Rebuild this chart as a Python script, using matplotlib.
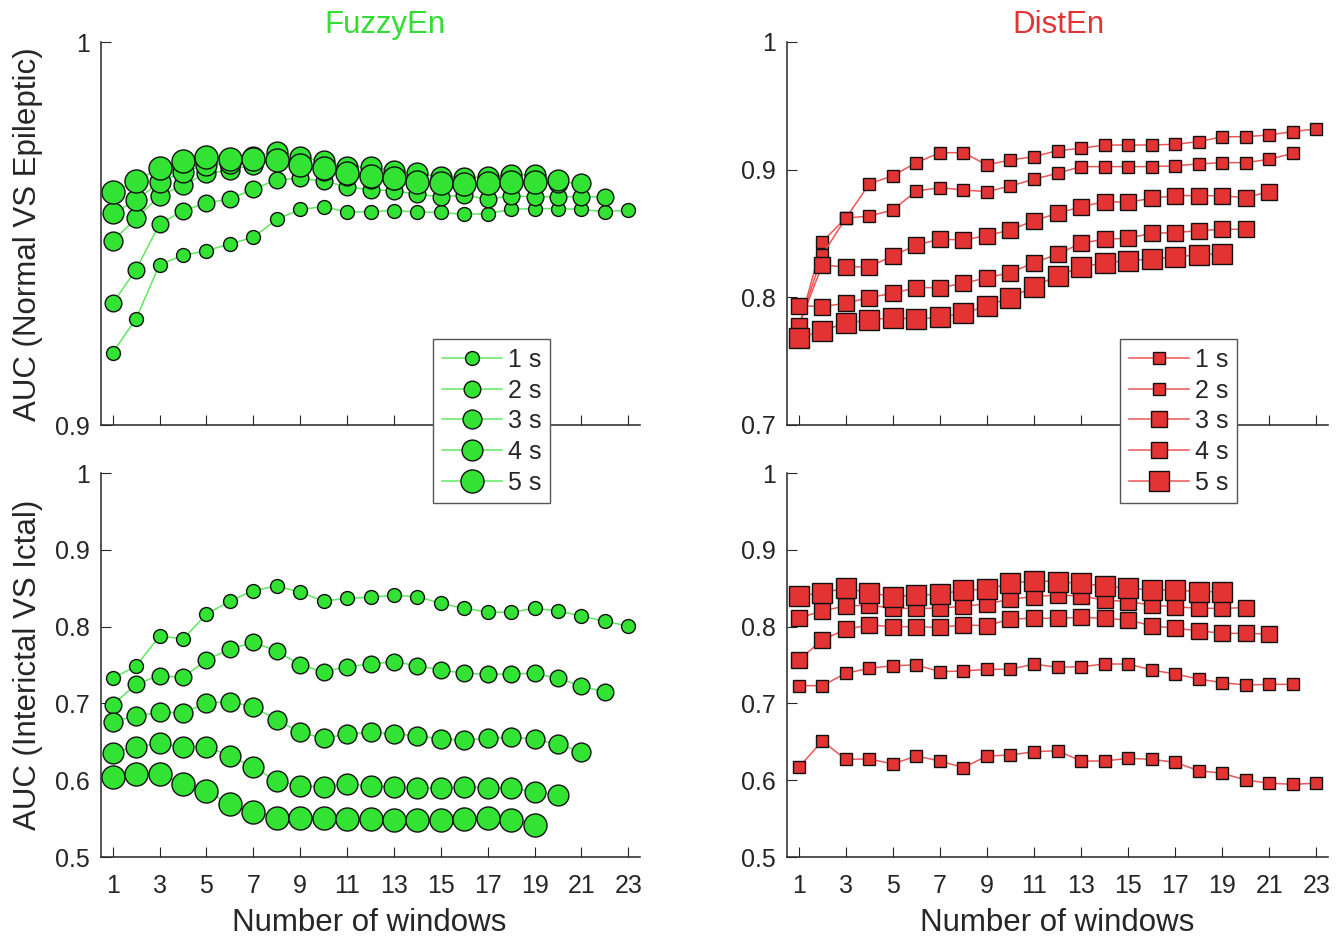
import matplotlib
matplotlib.use("Agg")
import matplotlib.pyplot as plt

plt.rcParams['font.family'] = ['Liberation Sans', 'DejaVu Sans']

# ---------------- data ----------------
labels = ["1 s", "2 s", "3 s", "4 s", "5 s"]
xticks = [1, 3, 5, 7, 9, 11, 13, 15, 17, 19, 21, 23]
xticklabels = ["1", "3", "5", "7", "9", "11", "13", "15", "17", "19", "21", "23"]

fz_top_1s = [0.9189, 0.9278, 0.9419, 0.9443, 0.9455, 0.9473, 0.9490, 0.9537, 0.9563, 0.9570, 0.9556, 0.9557,
             0.9560, 0.9556, 0.9555, 0.9550, 0.9552, 0.9563, 0.9565, 0.9565, 0.9563, 0.9557, 0.9561]
fz_top_2s = [0.9318, 0.9406, 0.9525, 0.9559, 0.9580, 0.9590, 0.9616, 0.9640, 0.9644, 0.9637, 0.9622, 0.9614,
             0.9612, 0.9602, 0.9596, 0.9600, 0.9590, 0.9598, 0.9596, 0.9596, 0.9596, 0.9596]
fz_top_3s = [0.9480, 0.9540, 0.9598, 0.9627, 0.9657, 0.9665, 0.9680, 0.9690, 0.9680, 0.9662, 0.9650, 0.9642,
             0.9640, 0.9632, 0.9630, 0.9628, 0.9630, 0.9632, 0.9632, 0.9632, 0.9633]
fz_top_4s = [0.9553, 0.9587, 0.9635, 0.9661, 0.9679, 0.9685, 0.9700, 0.9714, 0.9701, 0.9688, 0.9674, 0.9674,
             0.9663, 0.9657, 0.9648, 0.9645, 0.9648, 0.9652, 0.9654, 0.9640]
fz_top_5s = [0.9608, 0.9637, 0.9672, 0.9689, 0.9700, 0.9695, 0.9695, 0.9692, 0.9679, 0.9672, 0.9657, 0.9651,
             0.9644, 0.9635, 0.9631, 0.9628, 0.9631, 0.9635, 0.9635]

fz_bot_1s = [0.7326, 0.7487, 0.7878, 0.7839, 0.8160, 0.8333, 0.8468, 0.8529, 0.8446, 0.8333, 0.8368, 0.8381,
             0.8407, 0.8390, 0.8303, 0.8238, 0.8190, 0.8186, 0.8238, 0.8203, 0.8138, 0.8069, 0.8008]
fz_bot_2s = [0.6979, 0.7253, 0.7361, 0.7339, 0.7565, 0.7708, 0.7795, 0.7682, 0.7500, 0.7413, 0.7478, 0.7513,
             0.7543, 0.7490, 0.7435, 0.7392, 0.7379, 0.7383, 0.7392, 0.7326, 0.7227, 0.7145]
fz_bot_3s = [0.6762, 0.6836, 0.6884, 0.6880, 0.7001, 0.7023, 0.6957, 0.6784, 0.6623, 0.6545, 0.6602, 0.6623,
             0.6602, 0.6580, 0.6536, 0.6523, 0.6545, 0.6558, 0.6536, 0.6467, 0.6371]
fz_bot_4s = [0.6358, 0.6436, 0.6480, 0.6436, 0.6436, 0.6319, 0.6168, 0.5990, 0.5924, 0.5915, 0.5947, 0.5924,
             0.5915, 0.5895, 0.5895, 0.5915, 0.5902, 0.5902, 0.5850, 0.5807]
fz_bot_5s = [0.6046, 0.6077, 0.6077, 0.5950, 0.5859, 0.5686, 0.5590, 0.5512, 0.5504, 0.5504, 0.5495, 0.5495,
             0.5482, 0.5482, 0.5482, 0.5490, 0.5504, 0.5482, 0.5417]

de_top_1s = [0.7760, 0.8436, 0.8620, 0.8888, 0.8953, 0.9055, 0.9133, 0.9133, 0.9037, 0.9076, 0.9102, 0.9149,
             0.9167, 0.9193, 0.9193, 0.9193, 0.9199, 0.9219, 0.9258, 0.9258, 0.9272, 0.9298, 0.9319]
de_top_2s = [0.7770, 0.8332, 0.8620, 0.8637, 0.8684, 0.8833, 0.8859, 0.8841, 0.8828, 0.8872, 0.8925, 0.8972,
             0.9024, 0.9024, 0.9024, 0.9024, 0.9030, 0.9045, 0.9055, 0.9055, 0.9081, 0.9128]
de_top_3s = [0.7776, 0.8254, 0.8236, 0.8241, 0.8324, 0.8410, 0.8455, 0.8450, 0.8483, 0.8528, 0.8601, 0.8658,
             0.8710, 0.8749, 0.8745, 0.8776, 0.8797, 0.8797, 0.8795, 0.8781, 0.8828]
de_top_4s = [0.7935, 0.7927, 0.7954, 0.7998, 0.8032, 0.8076, 0.8076, 0.8110, 0.8154, 0.8193, 0.8272, 0.8337,
             0.8424, 0.8455, 0.8463, 0.8502, 0.8507, 0.8522, 0.8533, 0.8533]
de_top_5s = [0.7680, 0.7739, 0.7797, 0.7823, 0.7841, 0.7828, 0.7844, 0.7875, 0.7933, 0.7998, 0.8084, 0.8170,
             0.8236, 0.8272, 0.8287, 0.8301, 0.8316, 0.8334, 0.8340]

de_bot_1s = [0.6168, 0.6510, 0.6272, 0.6276, 0.6211, 0.6315, 0.6250, 0.6163, 0.6315, 0.6328, 0.6371, 0.6384,
             0.6250, 0.6250, 0.6285, 0.6272, 0.6233, 0.6124, 0.6090, 0.6003, 0.5960, 0.5947, 0.5960]
de_bot_2s = [0.7231, 0.7231, 0.7392, 0.7457, 0.7491, 0.7500, 0.7413, 0.7422, 0.7444, 0.7444, 0.7513, 0.7470,
             0.7478, 0.7513, 0.7513, 0.7435, 0.7383, 0.7318, 0.7270, 0.7240, 0.7248, 0.7248]
de_bot_3s = [0.7565, 0.7826, 0.7965, 0.8021, 0.7999, 0.7999, 0.7990, 0.8021, 0.8012, 0.8099, 0.8108, 0.8108,
             0.8121, 0.8108, 0.8086, 0.8012, 0.7977, 0.7947, 0.7912, 0.7912, 0.7903]
de_bot_4s = [0.8108, 0.8207, 0.8268, 0.8280, 0.8238, 0.8238, 0.8238, 0.8268, 0.8294, 0.8359, 0.8390, 0.8411,
             0.8398, 0.8346, 0.8325, 0.8281, 0.8259, 0.8238, 0.8238, 0.8247]
de_bot_5s = [0.8398, 0.8442, 0.8498, 0.8442, 0.8390, 0.8411, 0.8420, 0.8477, 0.8485, 0.8563, 0.8598, 0.8585,
             0.8563, 0.8529, 0.8498, 0.8477, 0.8477, 0.8455, 0.8455]

top_left_yticks = [0.9, 1.0]
top_left_yticklabels = ["0.9", "1"]
top_right_yticks = [0.7, 0.8, 0.9, 1.0]
top_right_yticklabels = ["0.7", "0.8", "0.9", "1"]
bot_yticks = [0.5, 0.6, 0.7, 0.8, 0.9, 1.0]
bot_yticklabels = ["0.5", "0.6", "0.7", "0.8", "0.9", "1"]

# ---------------- style ----------------
W, H = 1342, 938
fig = plt.figure(figsize=(W / 100, H / 100), dpi=100)

GREEN_FACE = '#33E333'
GREEN_LINE = '#5FE85F'
RED_FACE = '#E33333'
RED_LINE = '#EE5555'
AX_COL = '#262626'

circle_sizes = [10.0, 12.0, 13.6, 15.0, 16.6]
square_sizes = [8.0, 8.8, 11.6, 12.2, 14.0]

def px_axes(l, r, t, b):
    return fig.add_axes([l / W, 1 - b / H, (r - l) / W, (b - t) / H])

ax_tl = px_axes(101, 640, 42, 425)
ax_tr = px_axes(787, 1328, 42, 425)
ax_bl = px_axes(101, 640, 473, 857)
ax_br = px_axes(787, 1328, 473, 857)

def style(ax, ylim, yticks, yticklabels, show_xlabels):
    ax.set_xlim(0.5, 23.5)
    ax.set_ylim(*ylim)
    for s in ['top', 'right']:
        ax.spines[s].set_visible(False)
    for s in ['left', 'bottom']:
        ax.spines[s].set_color(AX_COL)
        ax.spines[s].set_linewidth(1.1)
    ax.set_xticks(xticks)
    if show_xlabels:
        ax.set_xticklabels(xticklabels)
    else:
        ax.set_xticklabels([])
    ax.set_yticks(yticks)
    ax.set_yticklabels(yticklabels)
    ax.tick_params(direction='in', length=7.5, width=0.8, color=AX_COL,
                   labelsize=18, labelcolor=AX_COL)
    ax.tick_params(axis='x', pad=12)
    ax.tick_params(axis='y', pad=8)
    ax.patch.set_alpha(0)

def draw(ax, series, marker, face, line, sizes):
    handles = []
    for vals, lab, ms in zip(series, labels, sizes):
        xs = list(range(1, len(vals) + 1))
        h, = ax.plot(xs, vals, color=line, lw=1.1, marker=marker, ms=ms,
                     mfc=face, mec='#111111', mew=1.0, label=lab, clip_on=False)
        handles.append(h)
    return handles

h_fz = draw(ax_tl, [fz_top_1s, fz_top_2s, fz_top_3s, fz_top_4s, fz_top_5s], 'o', GREEN_FACE, GREEN_LINE, circle_sizes)
draw(ax_bl, [fz_bot_1s, fz_bot_2s, fz_bot_3s, fz_bot_4s, fz_bot_5s], 'o', GREEN_FACE, GREEN_LINE, circle_sizes)
h_de = draw(ax_tr, [de_top_1s, de_top_2s, de_top_3s, de_top_4s, de_top_5s], 's', RED_FACE, RED_LINE, square_sizes)
draw(ax_br, [de_bot_1s, de_bot_2s, de_bot_3s, de_bot_4s, de_bot_5s], 's', RED_FACE, RED_LINE, square_sizes)

style(ax_tl, (0.9, 1.0), top_left_yticks, top_left_yticklabels, False)
style(ax_tr, (0.7, 1.0), top_right_yticks, top_right_yticklabels, False)
style(ax_bl, (0.5, 1.0), bot_yticks, bot_yticklabels, True)
style(ax_br, (0.5, 1.0), bot_yticks, bot_yticklabels, True)

# titles & labels
fig.text(385 / W, 1 - 33 / H, "FuzzyEn", color='#33DD33', fontsize=22.5, ha='center', va='baseline')
fig.text(1058 / W, 1 - 33 / H, "DistEn", color='#E33333', fontsize=22.5, ha='center', va='baseline')
fig.text(369 / W, 1 - 931 / H, "Number of windows", color=AX_COL, fontsize=22.5, ha='center', va='baseline')
fig.text(1057 / W, 1 - 931 / H, "Number of windows", color=AX_COL, fontsize=22.5, ha='center', va='baseline')
fig.text(28 / W, 1 - 234 / H, "AUC (Normal VS Epileptic)", color=AX_COL, fontsize=22.5,
         rotation=90, ha='center', va='center')
fig.text(28 / W, 1 - 665 / H, "AUC (Interictal VS Ictal)", color=AX_COL, fontsize=22.5,
         rotation=90, ha='center', va='center')

# legends
for hs, left in [(h_fz, 433), (h_de, 1120)]:
    leg = fig.legend(handles=hs, labels=labels, loc='upper left',
                     bbox_to_anchor=(left / W, 1 - 339 / H), bbox_transform=fig.transFigure,
                     borderaxespad=0, fontsize=18, frameon=True, fancybox=False,
                     handlelength=2.4, handletextpad=0.25, labelspacing=0.27,
                     borderpad=0.35, numpoints=1)
    leg.get_frame().set_edgecolor('#555555')
    leg.get_frame().set_linewidth(1.0)
    leg.get_frame().set_facecolor('white')
    leg.get_frame().set_alpha(1)
    for t in leg.get_texts():
        t.set_color(AX_COL)
    leg.set_zorder(20)

fig.savefig("out.png", dpi=100)
